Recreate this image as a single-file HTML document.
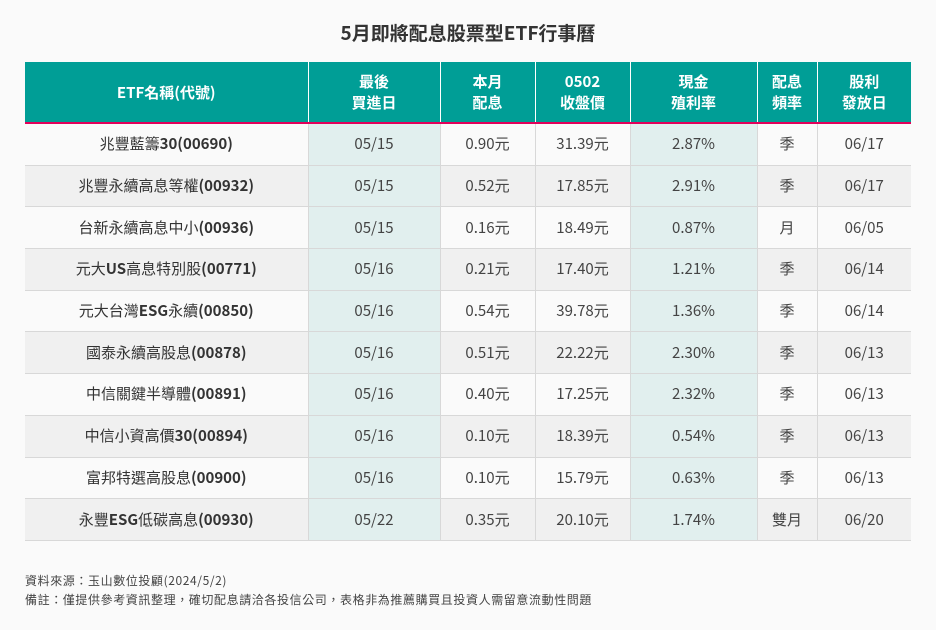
<!DOCTYPE html>
<html><head><meta charset="utf-8"><style>
body{margin:0;width:936px;height:630px;background:#fafafa;font-family:"Noto Sans CJK TC","Liberation Sans",sans-serif;color:#333;position:relative;overflow:hidden}
h1{position:absolute;top:18px;left:0;width:936px;text-align:center;margin:0;font-size:19px;line-height:30px;font-weight:bold;color:#333}
table{position:absolute;left:25px;top:62px;border-collapse:collapse;table-layout:fixed;width:886px}
th{background:#009e96;color:#fff;font-size:15px;font-weight:bold;height:60px;border-left:1px solid #fff;border-bottom:2px solid #e2005a;line-height:21px;padding:0}
th:first-child{border-left:none}
td{height:40.7px;border-top:1px solid #d8d8d8;border-left:1px solid #d8d8d8;text-align:center;font-size:15px;padding:0;color:#444;line-height:20px}
td:first-child{border-left:none;color:#333}
tr:nth-child(odd) td{background:#fafafa}
tr:nth-child(even) td{background:#f0f0f0}
tr td.h{background:#e1efee!important}
tbody tr:last-child td{border-bottom:1px solid #d8d8d8}
.note{position:absolute;left:25px;font-size:12px;color:#444;letter-spacing:0.6px;line-height:18px}
</style></head><body>
<h1>5月即將配息股票型ETF行事曆</h1>
<table>
<colgroup><col style="width:283px"><col style="width:132px"><col style="width:95px"><col style="width:95px"><col style="width:127px"><col style="width:60px"><col style="width:94px"></colgroup>
<thead><tr>
<th>ETF名稱(代號)</th>
<th>最後<br>買進日</th>
<th>本月<br>配息</th>
<th>0502<br>收盤價</th>
<th>現金<br>殖利率</th>
<th>配息<br>頻率</th>
<th>股利<br>發放日</th>
</tr></thead>
<tbody>
<tr><td>兆豐藍籌<b>30(00690)</b></td><td class="h">05/15</td><td>0.90元</td><td>31.39元</td><td class="h">2.87%</td><td>季</td><td>06/17</td></tr>
<tr><td>兆豐永續高息等權<b>(00932)</b></td><td class="h">05/15</td><td>0.52元</td><td>17.85元</td><td class="h">2.91%</td><td>季</td><td>06/17</td></tr>
<tr><td>台新永續高息中小<b>(00936)</b></td><td class="h">05/15</td><td>0.16元</td><td>18.49元</td><td class="h">0.87%</td><td>月</td><td>06/05</td></tr>
<tr><td>元大<b>US</b>高息特別股<b>(00771)</b></td><td class="h">05/16</td><td>0.21元</td><td>17.40元</td><td class="h">1.21%</td><td>季</td><td>06/14</td></tr>
<tr><td>元大台灣<b>ESG</b>永續<b>(00850)</b></td><td class="h">05/16</td><td>0.54元</td><td>39.78元</td><td class="h">1.36%</td><td>季</td><td>06/14</td></tr>
<tr><td>國泰永續高股息<b>(00878)</b></td><td class="h">05/16</td><td>0.51元</td><td>22.22元</td><td class="h">2.30%</td><td>季</td><td>06/13</td></tr>
<tr><td>中信關鍵半導體<b>(00891)</b></td><td class="h">05/16</td><td>0.40元</td><td>17.25元</td><td class="h">2.32%</td><td>季</td><td>06/13</td></tr>
<tr><td>中信小資高價<b>30(00894)</b></td><td class="h">05/16</td><td>0.10元</td><td>18.39元</td><td class="h">0.54%</td><td>季</td><td>06/13</td></tr>
<tr><td>富邦特選高股息<b>(00900)</b></td><td class="h">05/16</td><td>0.10元</td><td>15.79元</td><td class="h">0.63%</td><td>季</td><td>06/13</td></tr>
<tr><td>永豐<b>ESG</b>低碳高息<b>(00930)</b></td><td class="h">05/22</td><td>0.35元</td><td>20.10元</td><td class="h">1.74%</td><td>雙月</td><td>06/20</td></tr>
</tbody></table>
<div class="note" style="top:572px">資料來源：玉山數位投顧(2024/5/2)</div>
<div class="note" style="top:591px">備註：僅提供參考資訊整理，確切配息請洽各投信公司，表格非為推薦購買且投資人需留意流動性問題</div>
</body></html>
